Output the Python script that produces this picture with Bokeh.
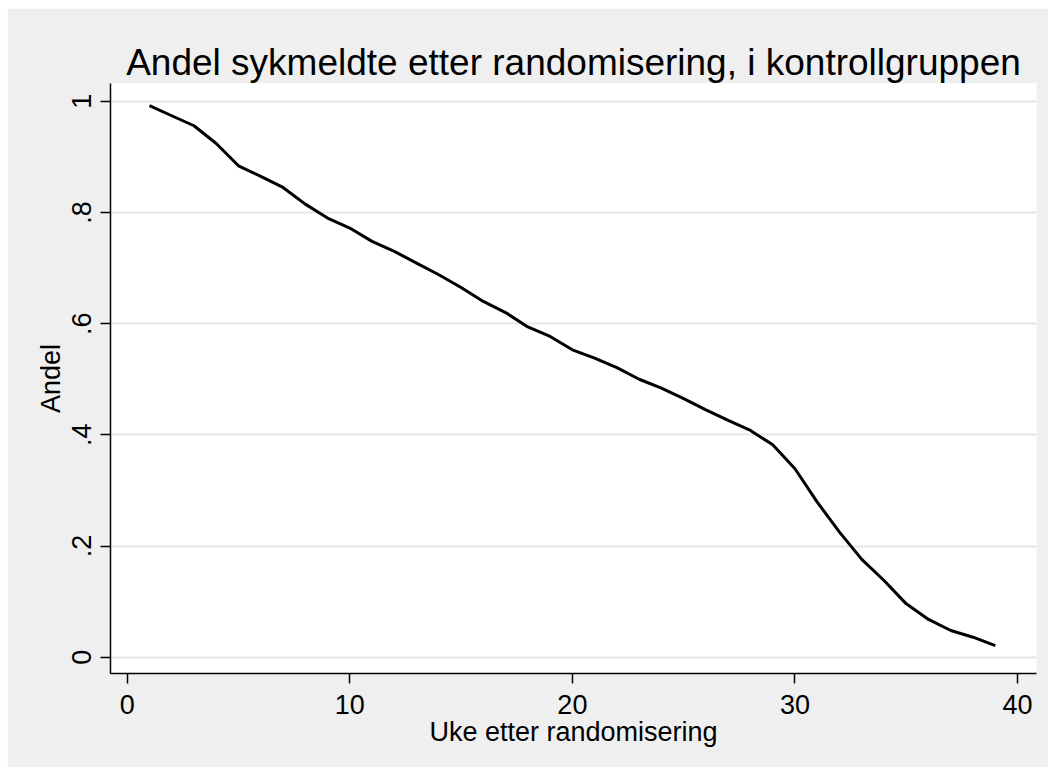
from bokeh.plotting import figure
from bokeh.models import Range1d, FixedTicker, Spacer
from bokeh.layouts import row, column
from bokeh.embed import file_html
from bokeh.resources import INLINE

# Data
weeks = list(range(1, 40))
share = [0.992, 0.974, 0.956, 0.924, 0.884, 0.865, 0.845, 0.815, 0.790, 0.772,
         0.748, 0.730, 0.709, 0.688, 0.665, 0.640, 0.620, 0.594, 0.577, 0.553,
         0.538, 0.521, 0.500, 0.484, 0.465, 0.445, 0.426, 0.408, 0.382, 0.339,
         0.279, 0.225, 0.176, 0.138, 0.096, 0.068, 0.048, 0.036, 0.021]

x_ticks = [0, 10, 20, 30, 40]
y_ticks = [0, 0.2, 0.4, 0.6, 0.8, 1]
y_tick_labels = ["0", ".2", ".4", ".6", ".8", "1"]

title_text = "Andel sykmeldte etter randomisering, i kontrollgruppen"
x_label = "Uke etter randomisering"
y_label = "Andel"

FONT = "Liberation Sans"
BG = "#efefef"

p = figure(width=1041, height=759, frame_width=926, frame_height=590,
           x_range=Range1d(-0.75, 40.85), y_range=Range1d(-0.0293, 1.032),
           output_backend="svg", toolbar_location=None,
           min_border_left=103, min_border_right=12, min_border_top=75, min_border_bottom=94)

p.background_fill_color = "white"
p.border_fill_color = BG
p.outline_line_color = None

p.title.text = title_text
p.title.text_font = FONT
p.title.text_font_size = "37px"
p.title.text_font_style = "normal"
p.title.text_color = "black"
p.title.align = "center"
p.title.standoff = 2

p.line(weeks, share, line_color="black", line_width=3)

# axes
p.xaxis.ticker = FixedTicker(ticks=x_ticks)
p.yaxis.ticker = FixedTicker(ticks=y_ticks)
p.yaxis.major_label_overrides = {t: l for t, l in zip(y_ticks, y_tick_labels)}
p.yaxis.major_label_orientation = "vertical"

for ax in (p.xaxis[0], p.yaxis[0]):
    ax.axis_line_color = "black"
    ax.axis_line_width = 1.5
    ax.major_tick_line_color = "black"
    ax.major_tick_line_width = 1.5
    ax.major_tick_in = 0
    ax.major_tick_out = 10
    ax.minor_tick_line_color = None
    ax.major_label_text_font = FONT
    ax.major_label_text_font_size = "27px"
    ax.major_label_text_color = "black"
    ax.axis_label_text_font = FONT
    ax.axis_label_text_font_size = "27px"
    ax.axis_label_text_font_style = "normal"
    ax.axis_label_text_color = "black"

p.xaxis.axis_label = x_label
p.yaxis.axis_label = y_label
p.xaxis.major_label_standoff = 11
p.xaxis.axis_label_standoff = 0
p.yaxis.major_label_standoff = 9
p.yaxis.axis_label_standoff = 4

p.xgrid.grid_line_color = None
p.ygrid.grid_line_color = "#e6e6e6"
p.ygrid.grid_line_width = 2

layout = column(Spacer(height=8), row(Spacer(width=7), p))

open("out.html", "w").write(file_html(layout, INLINE))
